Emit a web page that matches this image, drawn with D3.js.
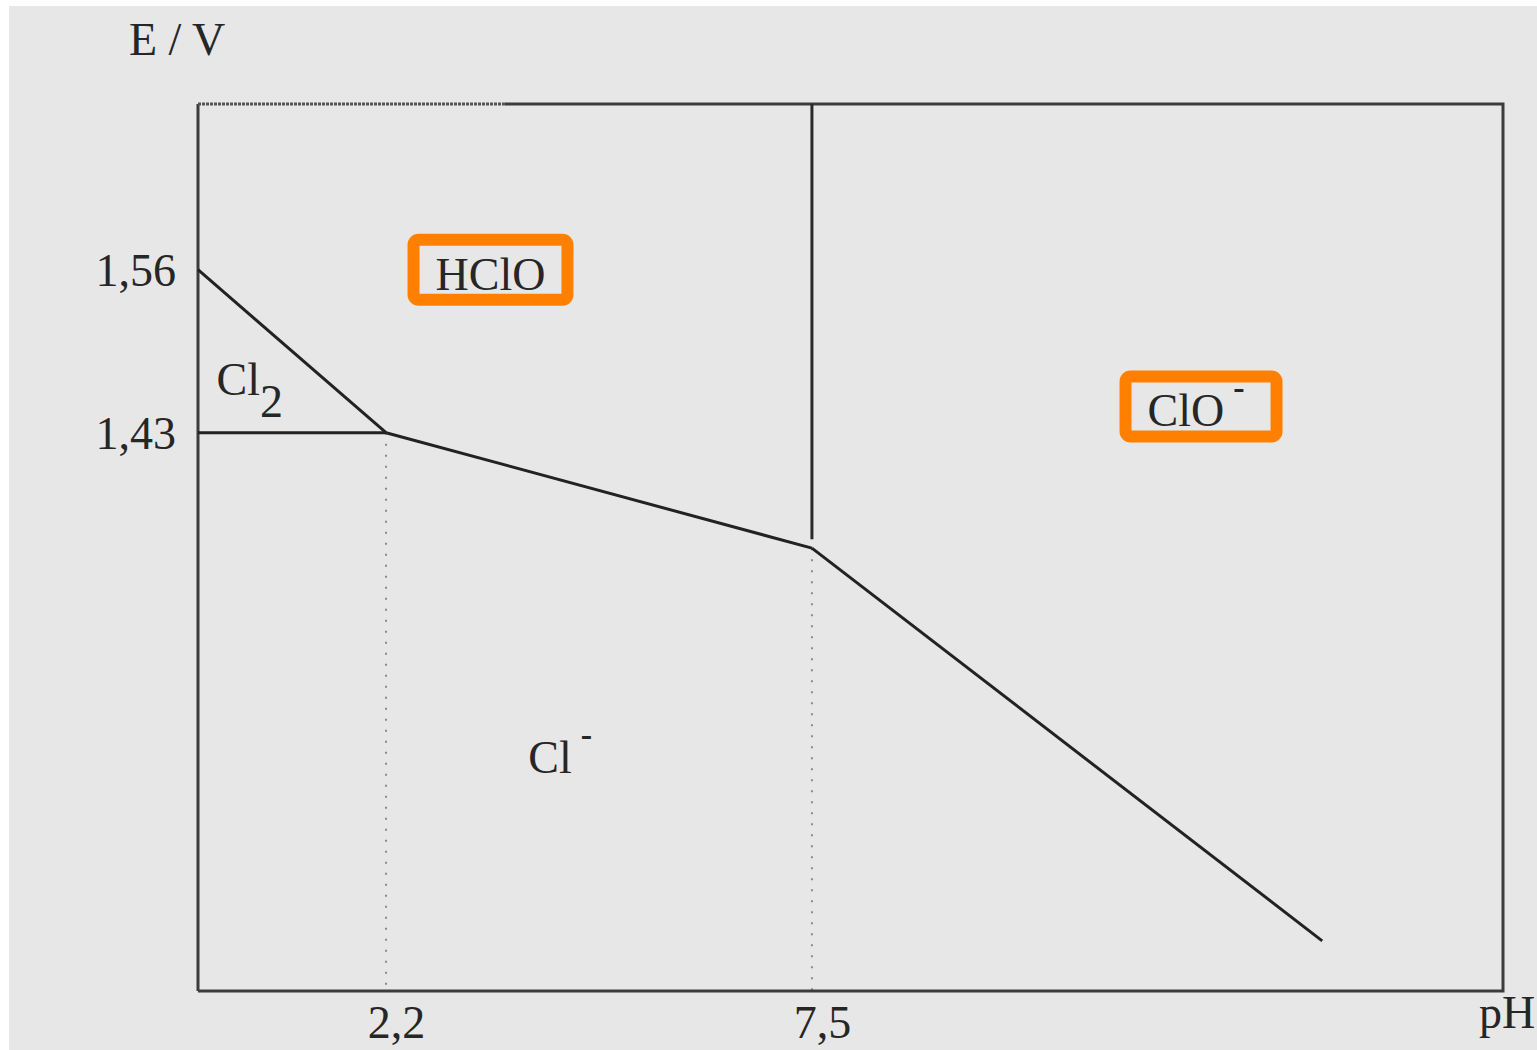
<!DOCTYPE html>
<html>
<head>
<meta charset="utf-8">
<script src="https://cdn.jsdelivr.net/npm/d3@7/dist/d3.min.js"></script>
<style>
  html, body { margin: 0; padding: 0; background: #ffffff; }
  svg { display: block; }
  text { font-family: "Liberation Serif", "DejaVu Serif", serif; fill: #262626; }
</style>
</head>
<body>
<svg id="chart" width="1537" height="1050"></svg>
<script>
// Potential–pH (Pourbaix) diagram of chlorine species
const phExtent = [-0.14, 16.1];        // pH span of the frame
const eExtent = [0.985, 1.692];        // E / V span of the frame

const phTicks = [2.2, 7.5];
const phTickLabels = ["2,2", "7,5"];
const eTicks = [1.56, 1.43];
const eTickLabels = ["1,56", "1,43"];

// Boundary lines between predominance regions, as [pH, E] points
const boundaryCl2HClO = [[-0.14, 1.56], [2.2, 1.43]];
const boundaryCl2Cl = [[-0.14, 1.43], [2.2, 1.43]];
const boundaryHClOCl = [[2.2, 1.43], [7.5, 1.338]];
const boundaryClOCl = [[7.5, 1.338], [13.85, 1.025]];
const boundaryHClOClO = [[7.5, 1.692], [7.5, 1.345]];

// Guide lines dropped from the triple points to the pH axis
const guideLines = [
  [[2.2, 1.43], [2.2, 0.985]],
  [[7.5, 1.338], [7.5, 0.985]]
];

// Species names and where each is written: [pH, E]
const species = [
  { name: "HClO", sup: "", sub: "", at: [3.5, 1.544], boxed: true, anchor: "middle" },
  { name: "ClO", sup: "-", sub: "", at: [12.28, 1.435], boxed: true, anchor: "middle" },
  { name: "Cl", sup: "", sub: "2", at: [0.09, 1.460], boxed: false, anchor: "start" },
  { name: "Cl", sup: "-", sub: "", at: [3.97, 1.159], boxed: false, anchor: "start" }
];

const svg = d3.select("#chart");

// paper background
svg.append("rect")
  .attr("x", 9).attr("y", 6)
  .attr("width", 1537 - 9).attr("height", 1050 - 6)
  .attr("fill", "#e7e7e7");

const x = d3.scaleLinear().domain(phExtent).range([198, 1503]);
const y = d3.scaleLinear().domain(eExtent).range([991, 104]);

const line = d3.line().x(d => x(d[0])).y(d => y(d[1]));

// dotted guides
svg.selectAll("path.guide")
  .data(guideLines)
  .join("path")
  .attr("class", "guide")
  .attr("d", line)
  .attr("fill", "none")
  .attr("stroke", "#8a8a8a")
  .attr("stroke-width", 2)
  .attr("stroke-dasharray", "2,9");

// frame
const frameStroke = "#3c3c3c";
svg.append("path")
  .attr("d", `M${x(phExtent[0])},${y(eExtent[0])}V${y(eExtent[1])}`)
  .attr("stroke", frameStroke).attr("stroke-width", 3).attr("fill", "none");
svg.append("path")
  .attr("d", `M${x(phExtent[0])},${y(eExtent[0])}H${x(phExtent[1])}V${y(eExtent[1])}H${x(3.68)}`)
  .attr("stroke", frameStroke).attr("stroke-width", 3).attr("fill", "none");
// the worn left part of the top edge
svg.append("path")
  .attr("d", `M${x(phExtent[0])},${y(eExtent[1])}H${x(3.68)}`)
  .attr("stroke", "#555").attr("stroke-width", 3).attr("fill", "none")
  .attr("stroke-dasharray", "3,1");

// boundaries
svg.selectAll("path.boundary")
  .data([boundaryCl2HClO, boundaryCl2Cl, boundaryHClOCl, boundaryClOCl])
  .join("path")
  .attr("class", "boundary")
  .attr("d", line)
  .attr("fill", "none")
  .attr("stroke", "#222")
  .attr("stroke-width", 3)
  .attr("stroke-linejoin", "round");

svg.append("path")
  .attr("d", line(boundaryHClOClO))
  .attr("fill", "none")
  .attr("stroke", "#2a2a2a")
  .attr("stroke-width", 3);

// axes: label-only ticks
const xAxis = d3.axisBottom(x)
  .tickValues(phTicks)
  .tickFormat((d, i) => phTickLabels[i])
  .tickSize(0);
const gx = svg.append("g").attr("transform", `translate(0,${y(eExtent[0])})`).call(xAxis);
gx.select(".domain").remove();
gx.selectAll("text")
  .attr("font-size", 46)
  .attr("font-family", "Liberation Serif")
  .attr("fill", "#262626")
  .attr("dx", 10)
  .attr("dy", 0)
  .attr("y", 47);

const yAxis = d3.axisLeft(y)
  .tickValues(eTicks)
  .tickFormat((d, i) => eTickLabels[i])
  .tickSize(0);
const gy = svg.append("g").attr("transform", `translate(${x(phExtent[0])},0)`).call(yAxis);
gy.select(".domain").remove();
gy.selectAll("text")
  .attr("font-size", 46)
  .attr("font-family", "Liberation Serif")
  .attr("fill", "#262626")
  .attr("x", -22)
  .attr("dy", 16);

// axis titles
svg.append("text")
  .attr("x", 129).attr("y", 55)
  .attr("font-size", 46)
  .text("E / V");
svg.append("text")
  .attr("x", 1479).attr("y", 1028)
  .attr("font-size", 46)
  .text("pH");

// species labels
species.forEach(s => {
  const t = svg.append("text")
    .attr("x", x(s.at[0]))
    .attr("y", y(s.at[1]))
    .attr("font-size", 46)
    .attr("text-anchor", s.anchor);
  t.append("tspan").text(s.name);
  if (s.sub) {
    t.append("tspan").attr("dy", 22).text(s.sub);
  }
  if (s.sup) {
    t.append("tspan")
      .attr("dx", 9).attr("dy", -27)
      .attr("font-size", 34)
      .attr("font-weight", "bold")
      .text(s.sup);
  }
  if (s.boxed) {
    const bb = t.node().getBBox();
    const base = y(s.at[1]);
    const padL = s.sup ? 22 : 22;
    const padR = s.sup ? 32 : 22;
    svg.insert("rect", () => t.node())
      .attr("x", bb.x - padL)
      .attr("y", base - 50)
      .attr("width", bb.width + padL + padR)
      .attr("height", 60)
      .attr("rx", 5)
      .attr("fill", "none")
      .attr("stroke", "#ff8000")
      .attr("stroke-width", 12);
  }
});
</script>
</body>
</html>
